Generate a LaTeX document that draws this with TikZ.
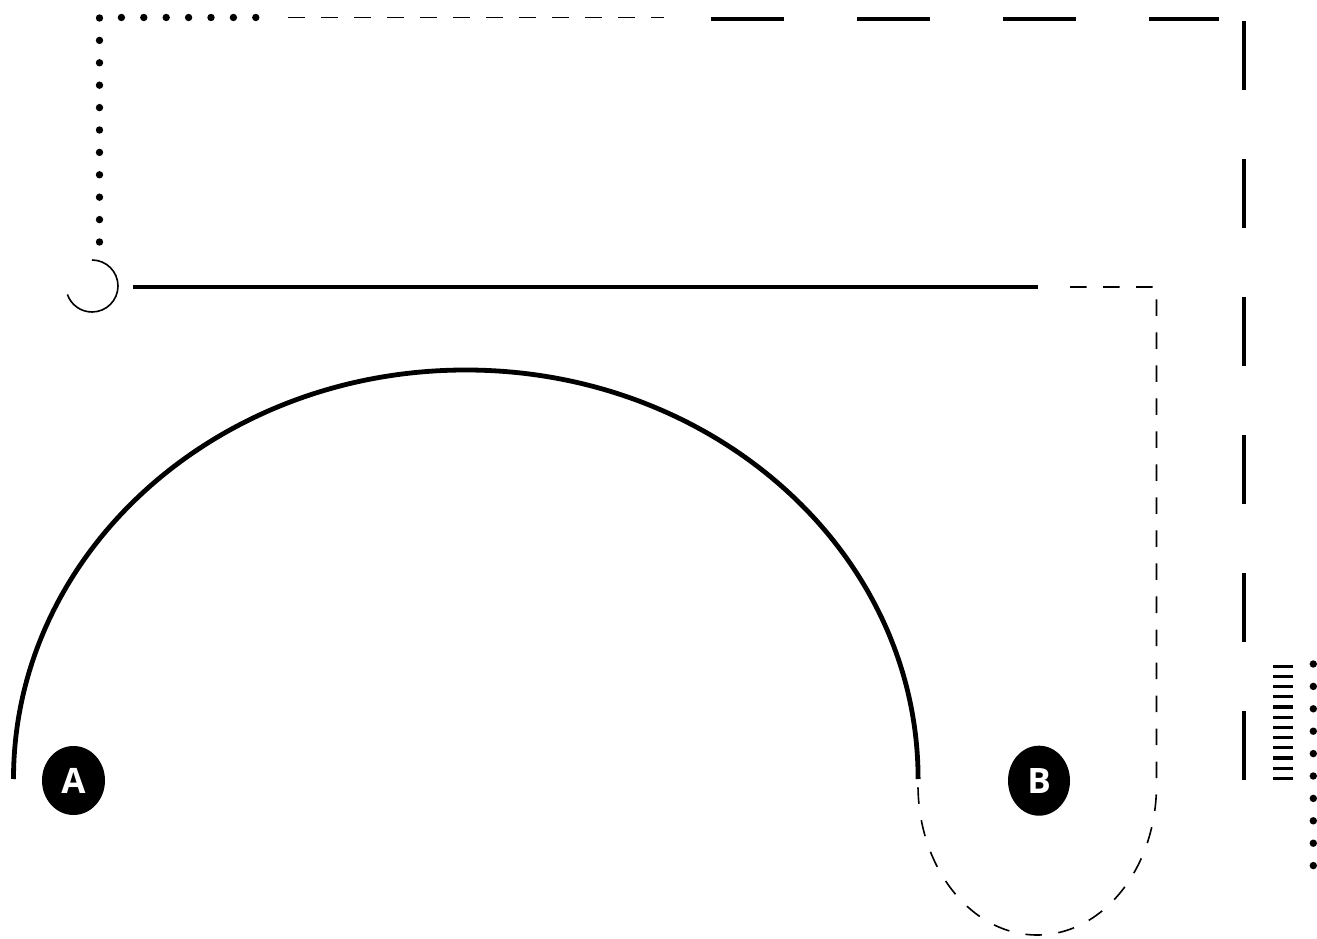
\documentclass[tikz,border=0pt]{standalone}
\usepackage{fontspec}
\setsansfont{Open Sans}
\usetikzlibrary{shapes.geometric}

\tikzset{
  thickline/.style={line width=4.8pt},
  thinline/.style={line width=1.6pt},
  thindash/.style={line width=1.6pt, dash pattern=on 16.5pt off 16.5pt},
  longdash/.style={line width=4.3pt, dash pattern=on #1 off #1},
  dotline/.style={line width=7.4pt, line cap=round, dash pattern=on 0pt off 22.4pt},
  marker/.style={ellipse, fill=black, text=white, inner sep=0pt,
                 minimum width=63pt, minimum height=69pt,
                 font=\sffamily\bfseries\fontsize{35}{35}\selectfont}
}

\begin{document}
\begin{tikzpicture}[x=1pt, y=1pt]
  \useasboundingbox (0,0) rectangle (1317,938);

  \coordinate (dotstart) at (99.5,696);
  \coordinate (dotcorner) at (99.5,920.5);
  \coordinate (dotend) at (257,920.5);
  \coordinate (thinstart) at (288,920.5);
  \coordinate (thinend) at (664,920.5);
  \coordinate (longstart) at (711,919);
  \coordinate (longend) at (1219,919);
  \coordinate (sidetop) at (1244,917.3);
  \coordinate (sidebot) at (1244,157);
  \coordinate (ringtop) at (92,678);
  \coordinate (barstart) at (133,651);
  \coordinate (barend) at (1037.5,651);
  \coordinate (hookstart) at (1070,651);
  \coordinate (hookcorner) at (1156.5,651);
  \coordinate (hookdown) at (1156.5,153);
  \coordinate (bowstart) at (13.5,159);
  \coordinate (hatchtop) at (1282.7,273.5);
  \coordinate (hatchbot) at (1282.7,158);
  \coordinate (rdottop) at (1313.3,274);
  \coordinate (rdotbot) at (1313.3,71.5);

  \draw[dotline] (dotstart) -- (dotcorner) -- (dotend);
  \draw[thindash] (thinstart) -- (thinend);
  \draw[longdash=73pt] (longstart) -- (longend);
  \draw[longdash=69pt] (sidetop) -- (sidebot);

  \draw[thinline] (ringtop) arc[start angle=90, end angle=-161, radius=26];
  \draw[thickline] (barstart) -- (barend);
  \draw[thindash] (hookstart) -- (hookcorner) -- (hookdown)
    arc[start angle=0, end angle=-180, x radius=119.25, y radius=150];

  \draw[thickline] (bowstart) arc[start angle=180, end angle=0, x radius=452.3, y radius=409];

  \draw[line width=20pt, dash pattern=on 3.2pt off 7pt] (hatchtop) -- (hatchbot);
  \draw[dotline] (rdottop) -- (rdotbot);

  \node[marker] (A) at (73.5,157.5) {A};
  \node[marker, minimum width=62pt, minimum height=70pt] (B) at (1039,157.3) {B};
\end{tikzpicture}
\end{document}
